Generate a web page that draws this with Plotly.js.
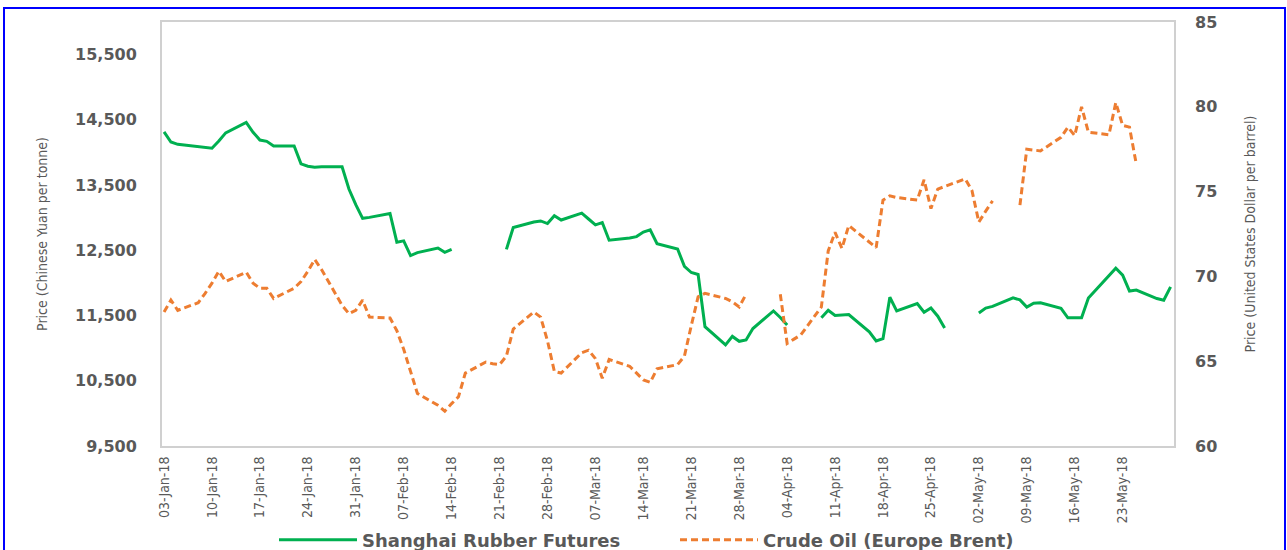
<!DOCTYPE html>
<html>
<head>
<meta charset="utf-8">
<script src="https://cdn.plot.ly/plotly-3.0.1.min.js"></script>
<style>
html,body{margin:0;padding:0;background:#ffffff;}
#chart{width:1287px;height:550px;}
</style>
</head>
<body>
<div id="chart"></div>
<script>
// Trading dates (weekdays) shown on the chart
const dates = [
 '2018-01-03','2018-01-04','2018-01-05','2018-01-08','2018-01-09','2018-01-10','2018-01-11','2018-01-12',
 '2018-01-15','2018-01-16','2018-01-17','2018-01-18','2018-01-19','2018-01-22','2018-01-23','2018-01-24',
 '2018-01-25','2018-01-26','2018-01-29','2018-01-30','2018-01-31',
 '2018-02-01','2018-02-02','2018-02-05','2018-02-06','2018-02-07','2018-02-08','2018-02-09','2018-02-12',
 '2018-02-13','2018-02-14','2018-02-15','2018-02-16','2018-02-19','2018-02-20','2018-02-21','2018-02-22',
 '2018-02-23','2018-02-26','2018-02-27','2018-02-28',
 '2018-03-01','2018-03-02','2018-03-05','2018-03-06','2018-03-07','2018-03-08','2018-03-09','2018-03-12',
 '2018-03-13','2018-03-14','2018-03-15','2018-03-16','2018-03-19','2018-03-20','2018-03-21','2018-03-22',
 '2018-03-23','2018-03-26','2018-03-27','2018-03-28','2018-03-29','2018-03-30',
 '2018-04-02','2018-04-03','2018-04-04','2018-04-05','2018-04-06','2018-04-09','2018-04-10','2018-04-11',
 '2018-04-12','2018-04-13','2018-04-16','2018-04-17','2018-04-18','2018-04-19','2018-04-20','2018-04-23',
 '2018-04-24','2018-04-25','2018-04-26','2018-04-27','2018-04-30',
 '2018-05-01','2018-05-02','2018-05-03','2018-05-04','2018-05-07','2018-05-08','2018-05-09','2018-05-10',
 '2018-05-11','2018-05-14','2018-05-15','2018-05-16','2018-05-17','2018-05-18','2018-05-21','2018-05-22',
 '2018-05-23','2018-05-24','2018-05-25','2018-05-28','2018-05-29','2018-05-30'
];

// Shanghai Rubber Futures (CNY per tonne); null = market closed
const rubber = [
 14315,14160,14125,14095,14085,14065,14175,14300,
 14460,14310,14190,14170,14100,14100,13825,13790,
 13775,13780,13780,13440,13200,
 12990,13005,13065,12625,12645,12420,12465,12535,
 12470,12515,null,null,null,null,null,12515,
 12850,12935,12950,12910,
 13030,12965,13070,12980,12890,12925,12655,12690,
 12710,12780,12815,12600,12520,12255,12160,12130,
 11330,11050,11180,11105,11125,11300,
 11570,11470,11355,null,null,11465,11580,11500,
 11510,11515,11250,11110,11145,11780,11570,11685,
 11550,11615,11490,11310,null,
 null,11540,11615,11640,11770,11740,11630,11690,
 11695,11610,11465,11465,11465,11770,12100,12225,
 12120,11875,11890,11760,11735,11940
];

// Crude Oil, Europe Brent (USD per barrel); null = no quote
const brent = [
 67.9,68.6,68.0,68.45,69.0,69.6,70.3,69.7,
 70.25,69.6,69.3,69.3,68.7,69.3,69.7,70.3,
 71.0,70.4,68.3,67.8,68.0,
 68.6,67.6,67.55,66.8,65.7,64.4,63.1,62.4,
 62.05,62.5,62.9,64.3,64.95,64.85,64.8,65.3,
 66.9,67.9,67.6,66.2,
 64.4,64.3,65.5,65.65,65.15,64.0,65.1,64.7,
 64.3,63.9,63.75,64.55,64.8,65.3,67.1,68.8,
 69.0,68.7,68.5,68.2,68.95,null,
 null,68.95,66.05,66.3,66.55,68.2,71.5,72.6,
 71.65,73.0,72.0,71.7,74.5,74.75,74.65,74.5,
 75.7,74.0,75.15,75.3,75.75,
 75.05,73.2,73.85,74.45,null,74.2,77.5,77.45,
 77.4,78.2,78.8,78.3,80.0,78.5,78.35,80.25,
 78.9,78.8,76.6,null,null,null
];

// x-axis tick labels (weekly)
const tickDates = ['2018-01-03','2018-01-10','2018-01-17','2018-01-24','2018-01-31','2018-02-07','2018-02-14',
 '2018-02-21','2018-02-28','2018-03-07','2018-03-14','2018-03-21','2018-03-28','2018-04-04','2018-04-11',
 '2018-04-18','2018-04-25','2018-05-02','2018-05-09','2018-05-16','2018-05-23'];
const tickText = ['03-Jan-18','10-Jan-18','17-Jan-18','24-Jan-18','31-Jan-18','07-Feb-18','14-Feb-18',
 '21-Feb-18','28-Feb-18','07-Mar-18','14-Mar-18','21-Mar-18','28-Mar-18','04-Apr-18','11-Apr-18',
 '18-Apr-18','25-Apr-18','02-May-18','09-May-18','16-May-18','23-May-18'];

const seriesNames = ['Shanghai Rubber Futures', 'Crude Oil (Europe Brent)'];

const narrow = '"Liberation Sans Narrow", "DejaVu Sans Condensed", "Roboto Condensed", Arial, sans-serif';
const wide = '"DejaVu Sans", Verdana, sans-serif';
const grey = '#595959';

const M = {l:162, r:113, t:22, b:104};
const W = 1287, H = 550;
const pw = W - M.l - M.r, ph = H - M.t - M.b;
const px2x = p => (p - M.l) / pw;
const px2y = p => (H - M.b - p) / ph;

const traces = [
 {
  x: dates, y: rubber, name: seriesNames[0], type: 'scatter', mode: 'lines',
  line: {color: '#00B050', width: 3}, connectgaps: false, yaxis: 'y'
 },
 {
  x: dates, y: brent, name: seriesNames[1], type: 'scatter', mode: 'lines',
  line: {color: '#ED7D31', width: 3, dash: '7px,4px'}, connectgaps: false, yaxis: 'y2'
 }
];

const layout = {
 width: W, height: H,
 margin: M,
 paper_bgcolor: '#ffffff', plot_bgcolor: '#ffffff',
 showlegend: true,
 legend: {
  orientation: 'h', xref: 'container', yref: 'container',
  x: 274 / W, xanchor: 'left', y: (H - 540) / H, yanchor: 'middle',
  font: {family: wide, size: 18, color: grey, weight: 'bold'},
  bgcolor: 'rgba(0,0,0,0)',
  itemwidth: 78, entrywidth: 308, entrywidthmode: 'pixels', traceorder: 'normal'
 },
 xaxis: {
  type: 'date',
  range: ['2018-01-02 16:48', '2018-05-30 12:00'],
  tickmode: 'array', tickvals: tickDates, ticktext: tickText,
  tickangle: -90,
  tickfont: {family: narrow, size: 14, color: grey},
  showgrid: false, zeroline: false,
  showline: true, mirror: true, linecolor: '#d0d0d0', linewidth: 2,
  ticks: '', ticklabelstandoff: 3
 },
 yaxis: {
  range: [9500, 16000], tick0: 9500, dtick: 1000, tickformat: ',d',
  tickfont: {family: wide, size: 16, color: grey, weight: 'bold'},
  showgrid: false, zeroline: false,
  showline: true, mirror: true, linecolor: '#d0d0d0', linewidth: 2,
  ticks: '', ticklabelstandoff: 20,
  title: {text: 'Price (Chinese Yuan per tonne)', font: {family: narrow, size: 14, color: grey}, standoff: 24}
 },
 yaxis2: {
  overlaying: 'y', side: 'right',
  range: [60, 85], tick0: 60, dtick: 5,
  tickfont: {family: wide, size: 16, color: grey, weight: 'bold'},
  showgrid: false, zeroline: false, showline: false,
  ticks: '', ticklabelstandoff: 20,
  title: {text: 'Price (United States Dollar per barrel)', font: {family: narrow, size: 14, color: grey}, standoff: 28}
 },
 shapes: [
  {type: 'rect', xref: 'paper', yref: 'paper', x0: px2x(4), x1: px2x(1285), y0: px2y(575), y1: px2y(8),
   line: {color: '#0000FF', width: 2}, fillcolor: 'rgba(0,0,0,0)', layer: 'above'}
 ]
};

Plotly.newPlot('chart', traces, layout, {displayModeBar: false, staticPlot: true});
</script>
</body>
</html>
